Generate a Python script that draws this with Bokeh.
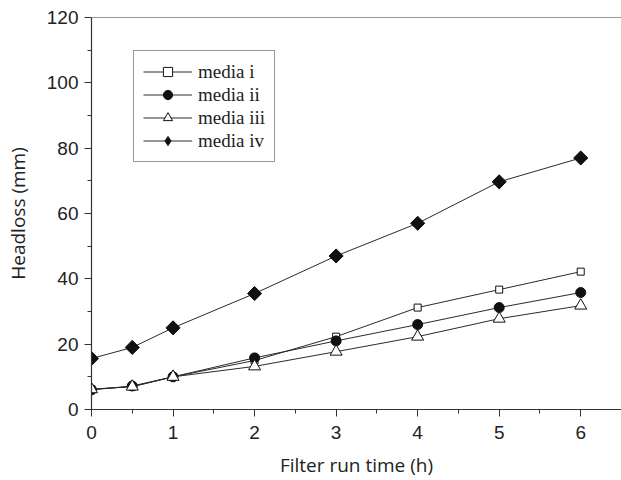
import math
from bokeh.plotting import figure
from bokeh.models import FixedTicker, Span, Range1d
from bokeh.embed import file_html
from bokeh.resources import INLINE

time_h = [0, 0.5, 1, 2, 3, 4, 5, 6]
media_i = [6.2, 7.0, 10.0, 15.0, 22.3, 31.2, 36.7, 42.2]
media_ii = [6.0, 7.2, 10.0, 15.8, 21.0, 26.0, 31.2, 35.8]
media_iii = [6.2, 7.0, 10.0, 13.2, 17.7, 22.3, 27.8, 31.8]
media_iv = [15.6, 19.0, 25.0, 35.5, 47.0, 57.0, 69.7, 77.0]

x_ticks = [0, 1, 2, 3, 4, 5, 6]
x_minor = [0.5, 1.5, 2.5, 3.5, 4.5, 5.5, 6.5]
y_ticks = [0, 20, 40, 60, 80, 100, 120]
y_minor = [10, 30, 50, 70, 90, 110]

p = figure(width=621, height=480, output_backend="svg", toolbar_location=None,
           x_range=Range1d(0, 6.5), y_range=Range1d(0, 120),
           min_border_left=91, min_border_right=0, min_border_top=17, min_border_bottom=70)
p.grid.visible = False
p.outline_line_color = None
p.background_fill_color = "white"

line_col = "#2a2a2a"
series = [
    ("media i", media_i, "square", 7, "white", 0),
    ("media ii", media_ii, "circle", 10, "#111111", 0),
    ("media iii", media_iii, "triangle", 12, "white", 0),
    ("media iv", media_iv, "square", 10, "#111111", math.pi / 4),
]
for name, ys, mk, sz, fill, ang in series:
    p.line(time_h, ys, line_color=line_col, line_width=1, legend_label=name)
    if ang:
        # diamond (used for the legend swatch), covered by a rotated square for the data
        p.scatter(time_h, ys, marker="diamond", size=12, fill_color=fill,
                  line_color="#111111", line_width=1, legend_label=name)
        p.scatter(time_h, ys, marker=mk, size=sz, angle=ang, fill_color=fill,
                  line_color="#111111", line_width=1)
    else:
        p.scatter(time_h, ys, marker=mk, size=sz, fill_color=fill, line_color="#111111",
                  line_width=1, legend_label=name)

p.add_layout(Span(location=120, dimension="width", line_color="#333333", line_width=1.2))

for ax in (p.xaxis[0], p.yaxis[0]):
    ax.axis_line_color = "#333333"
    ax.axis_line_width = 1.2
    ax.major_tick_line_color = "#333333"
    ax.minor_tick_line_color = "#333333"
    ax.major_tick_in = 0
    ax.major_tick_out = 7
    ax.minor_tick_in = 0
    ax.minor_tick_out = 4
    ax.major_label_text_font = "Liberation Sans"
    ax.major_label_text_font_size = "19px"
    ax.major_label_text_color = "#222222"
    ax.axis_label_text_font = "Open Sans"
    ax.axis_label_text_font_style = "normal"
    ax.axis_label_text_font_size = "19px"
    ax.axis_label_text_color = "#222222"

p.xaxis[0].ticker = FixedTicker(ticks=x_ticks, minor_ticks=x_minor)
p.yaxis[0].ticker = FixedTicker(ticks=y_ticks, minor_ticks=y_minor)
p.xaxis[0].axis_label = "Filter run time (h)"
p.yaxis[0].axis_label = "Headloss (mm)"
p.xaxis[0].major_label_standoff = 9
p.yaxis[0].major_label_standoff = 6
p.xaxis[0].axis_label_standoff = 10
p.yaxis[0].axis_label_standoff = 13

lg = p.legend[0]
lg.location = (42, 247)
lg.glyph_width = 49
lg.glyph_height = 23
lg.label_height = 23
lg.label_text_font = "Liberation Serif"
lg.label_text_font_size = "19px"
lg.label_text_color = "#222222"
lg.border_line_color = "#333333"
lg.border_line_width = 1
lg.padding = 9
lg.spacing = 0
lg.margin = 0
lg.label_standoff = 6
lg.background_fill_alpha = 1

open("out.html", "w").write(file_html(p, INLINE))
